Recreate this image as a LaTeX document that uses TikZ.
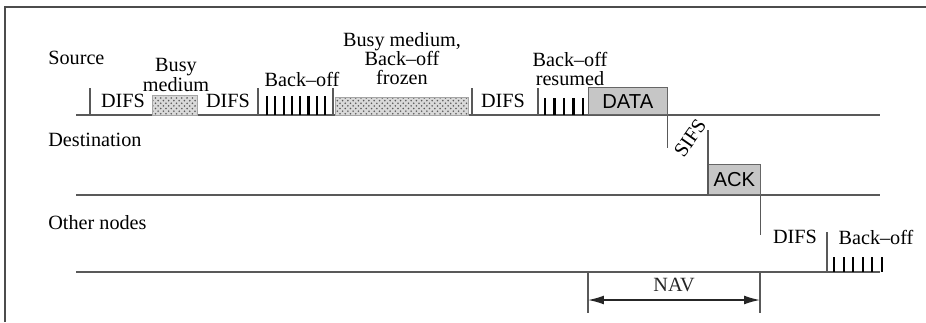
\documentclass[tikz,border=0pt]{standalone}
\usepackage{fontspec}
\setmainfont{Liberation Serif}
\newfontfamily\pktfont{Liberation Sans}
\usetikzlibrary{arrows.meta,patterns}

\begin{document}
\begin{tikzpicture}[x=0.02cm, y=-0.02cm,
  lbl/.style={inner sep=0pt, align=center, font=\fontsize{11.5}{10.8}\selectfont},
  pkt/.style={draw=gray!80!black, fill=gray!45, inner sep=0pt, anchor=south west, font=\pktfont\fontsize{11.5}{12}\selectfont},
  busy/.style={draw=gray!70, pattern=crosshatch dots, pattern color=gray!70!black, preaction={fill=gray!30}},
  axis/.style={draw=gray!70!black, line width=1pt},
  sep/.style={draw=gray!70!black, line width=0.7pt},
  slot/.style={draw=black, line width=1.2pt}
]
  \useasboundingbox (0,0) rectangle (926,322);
  \draw[gray!60!black, line width=0.8pt] (5,322) -- (5,7) -- (926,7);

  % station labels
  \node[lbl, anchor=west] (src) at (48,58) {Source};
  \node[lbl, anchor=west] (dst) at (48,140) {Destination};
  \node[lbl, anchor=west] (oth) at (48,223) {Other nodes};

  % time lines
  \coordinate (s0) at (76,115);  \coordinate (s1) at (880,115);
  \coordinate (d0) at (76,195);  \coordinate (d1) at (880,195);
  \coordinate (o0) at (76,272);  \coordinate (o1) at (880,272);
  \draw[axis] (s0) -- (s1);
  \draw[axis] (d0) -- (d1);
  \draw[axis] (o0) -- (o1);

  % source
  \foreach \x in {90,258,333,472,538}
    \draw[sep] (\x,88) -- (\x,115);
  \draw[busy] (152,95) rectangle (197,115);
  \draw[busy] (335,97) rectangle (468,115);
  \foreach \i in {0,...,7}
    \draw[slot] ({267+8.3*\i},96) -- ++(0,19);
  \foreach \i in {0,...,4}
    \draw[slot] ({545+9.5*\i},98) -- ++(0,17);

  \node[lbl] (difs1) at (123,101) {DIFS};
  \node[lbl] (difs2) at (228,101) {DIFS};
  \node[lbl] (difs3) at (503,101) {DIFS};
  \node[lbl, font=\fontsize{11.5}{7.5}\selectfont] (busy1) at (176,75) {Busy\\medium};
  \node[lbl] (bo1) at (302,79) {Back--off};
  \node[lbl] (busy2) at (402,59) {Busy medium,\\Back--off\\frozen};
  \node[lbl] (bo2) at (570,69) {Back--off\\resumed};
  \node[pkt, minimum width=1.58cm, minimum height=0.54cm] (data) at (588,115) {DATA};

  % destination
  \node[pkt, minimum width=1.04cm, minimum height=0.6cm] (ack) at (708,195) {ACK};
  \draw[sep] (data.south east) -- ++(0,33);
  \draw[sep] (ack.south west) -- ++(0,-65);
  \draw[sep] (ack.south east) -- ++(0,40);
  \node[lbl, rotate=55] (sifs) at (690,138) {SIFS};

  % other nodes
  \draw[sep] (827,232) -- (827,272);
  \foreach \i in {0,...,5}
    \draw[slot] ({834+9.6*\i},257) -- ++(0,15);
  \node[lbl] (difs4) at (795,237) {DIFS};
  \node[lbl] (bo3) at (876,237) {Back--off};

  % NAV
  \coordinate (n0) at (588,300);
  \coordinate (n1) at (760,300);
  \draw[sep] (588,272) -- (588,313);
  \draw[sep] (760,272) -- (760,313);
  \draw[{Latex[length=9pt,width=5pt]}-{Latex[length=9pt,width=5pt]}, gray!30!black, line width=0.8pt]
    (n0) -- node[lbl, above=4pt] (nav) {NAV} (n1);
\end{tikzpicture}
\end{document}
